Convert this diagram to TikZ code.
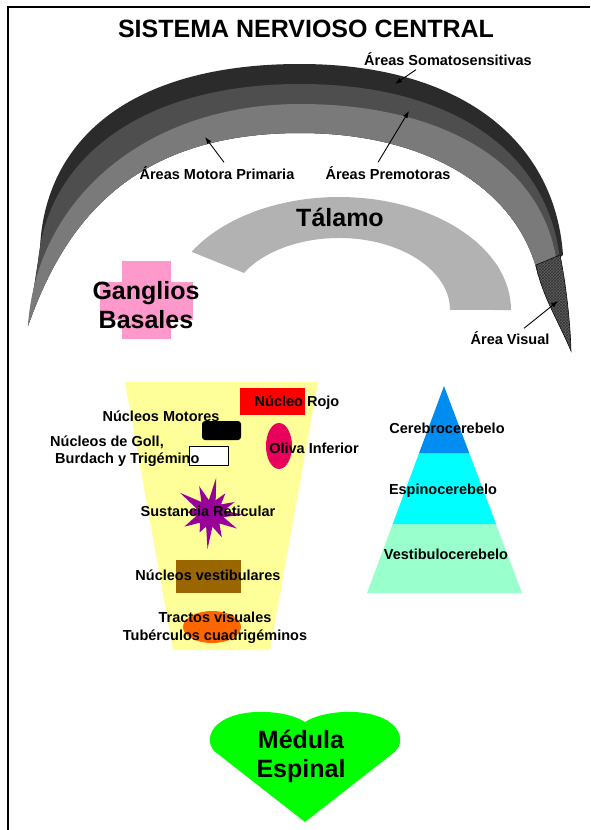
\documentclass[tikz,border=0pt]{standalone}
\usepackage{fontspec}
\setmainfont{Liberation Sans}
\usetikzlibrary{arrows.meta,patterns,shapes.geometric}

\definecolor{archdark}{RGB}{43,43,43}
\definecolor{archmid}{RGB}{78,78,78}
\definecolor{archlight}{RGB}{122,122,122}
\definecolor{talamo}{RGB}{178,178,178}
\definecolor{ganglios}{RGB}{255,153,204}
\definecolor{brainstem}{RGB}{255,255,153}
\definecolor{rojo}{RGB}{255,0,0}
\definecolor{oliva}{RGB}{232,0,92}
\definecolor{reticular}{RGB}{153,0,153}
\definecolor{vestib}{RGB}{153,102,0}
\definecolor{tractos}{RGB}{255,102,0}
\definecolor{cerebro}{RGB}{0,140,240}
\definecolor{espino}{RGB}{0,255,255}
\definecolor{vestibulo}{RGB}{153,255,204}
\definecolor{medula}{RGB}{0,255,0}

\begin{document}
\begin{tikzpicture}[
  x=1pt, y=1pt, >=Latex,
  every node/.style={font=\bfseries, inner sep=1pt},
  heading/.style={font=\fontsize{25}{29}\selectfont\bfseries},
  biglabel/.style={font=\fontsize{25}{29}\selectfont\bfseries, align=center},
  tag/.style={font=\fontsize{14.5}{17.5}\selectfont\bfseries, align=center},
  pointer/.style={->, line width=0.9pt, >={Latex[length=7pt,width=5pt]}},
  frameline/.style={line width=2pt},
  visualarea/.style={fill=black!62, draw=black, line width=0.6pt,
    postaction={pattern=crosshatch, pattern color=black!80}},
  box/.style={rectangle, inner sep=0pt}
]
  \useasboundingbox (0,0) rectangle (590,-830);

  % frame
  \draw[frameline] (8,-830) -- (8,-7) -- (590,-7);

  % corteza
  \fill[archdark] (40,-248) .. controls (45,-140) and (130,-64) .. (300,-64)
    .. controls (460,-64) and (555,-140) .. (563,-255) -- (538,-275)
    .. controls (520,-195) and (435,-133) .. (300,-133)
    .. controls (125,-133) and (62,-230) .. (28,-326) -- cycle;
  \fill[archmid] (38,-263) .. controls (46,-160) and (140,-84) .. (300,-84)
    .. controls (450,-84) and (548,-150) .. (560,-260) -- (538,-275)
    .. controls (520,-195) and (435,-133) .. (300,-133)
    .. controls (125,-133) and (62,-230) .. (28,-326) -- cycle;
  \fill[archlight] (28,-326) .. controls (36,-200) and (145,-104) .. (300,-104)
    .. controls (445,-104) and (545,-165) .. (557,-265) -- (538,-275)
    .. controls (520,-195) and (435,-133) .. (300,-133)
    .. controls (125,-133) and (62,-230) .. (28,-326) -- cycle;
  \filldraw[visualarea] (536,-265) -- (560,-255)
    .. controls (566,-285) and (570,-320) .. (571,-351)
    .. controls (559,-322) and (542,-296) .. (536,-265) -- cycle;

  % talamo
  \fill[talamo] (511,-310) arc[start angle=0, end angle=149, x radius=172, y radius=113]
    -- (243.9,-272.9) arc[start angle=149, end angle=0, x radius=111, y radius=72] -- cycle;

  % ganglios basales
  \fill[ganglios] (122,-261) rectangle (171,-339);
  \fill[ganglios] (100,-282) rectangle (193,-320);

  % tronco encefalico
  \fill[brainstem] (125,-382) -- (318,-382) -- (270,-650) -- (173,-650) -- cycle;
  \node[box, fill=rojo, minimum width=65pt, minimum height=27pt] (rojobox) at (272.5,-401.5) {};
  \node[box, fill=black, rounded corners=3pt, minimum width=39pt, minimum height=19pt] (motorbox) at (221.5,-430.5) {};
  \node[box, fill=white, draw=black, line width=0.8pt, minimum width=39pt, minimum height=19pt] (gollbox) at (208.5,-455.5) {};
  \node[ellipse, fill=oliva, inner sep=0pt, minimum width=26pt, minimum height=46pt] (olivashape) at (279,-446) {};
  \begin{scope}[shift={(210,-513)}]
    \fill[reticular] (80:36) -- (95:13) -- (112:29) -- (128:14) -- (146:36) -- (162:14)
      -- (178:23) -- (192:14) -- (208:29) -- (224:14) -- (242:22) -- (254:14)
      -- (266:36) -- (280:14) -- (296:27) -- (312:14) -- (330:31) -- (343:14)
      -- (357:33) -- (10:14) -- (24:27) -- (38:14) -- (52:25) -- (66:14) -- cycle;
  \end{scope}
  \node[box, fill=vestib, minimum width=65pt, minimum height=33pt] (vestibbox) at (208.5,-576.5) {};
  \node[ellipse, fill=tractos, inner sep=0pt, minimum width=58pt, minimum height=32pt] (tractosshape) at (212,-627) {};

  % cerebelo
  \fill[vestibulo] (392.7,-524) -- (496,-524) -- (522,-593) -- (367,-593) -- cycle;
  \fill[espino] (419.1,-453) -- (469.2,-453) -- (496,-524) -- (392.7,-524) -- cycle;
  \fill[cerebro] (444,-386) -- (469.2,-453) -- (419.1,-453) -- cycle;

  % medula espinal
  \fill[medula] (305,-722) .. controls (285,-709) and (232,-706) .. (214,-728)
    .. controls (207,-738) and (209,-748) .. (218,-754) -- (305,-822) -- (392,-754)
    .. controls (401,-748) and (403,-738) .. (396,-728)
    .. controls (378,-706) and (325,-709) .. (305,-722) -- cycle;

  % textos
  \node[heading] (title) at (306,-28.5) {SISTEMA NERVIOSO CENTRAL};
  \node[tag] (somato) at (448,-59) {Áreas Somatosensitivas};
  \node[tag] (motora) at (217,-173) {Áreas Motora Primaria};
  \node[tag] (premotora) at (388,-173) {Áreas Premotoras};
  \node[biglabel] (talamolbl) at (340,-217) {Tálamo};
  \node[biglabel] (gangliolbl) at (146,-305) {Ganglios\\Basales};
  \node[tag] (visual) at (510,-338) {Área Visual};
  \node[tag] (rojolbl) at (297,-403) {Núcleo Rojo};
  \node[tag] (motorlbl) at (161,-416) {Núcleos Motores};
  \node[tag, align=left, anchor=west] (gollbl) at (49,-451) {Núcleos de Goll,\\\hspace*{5pt}Burdach y Trigémino};
  \node[tag] (olivalbl) at (314,-448) {Oliva Inferior};
  \node[tag] (reticlbl) at (208,-511) {Sustancia Reticular};
  \node[tag] (vestiblbl) at (208,-575) {Núcleos vestibulares};
  \node[tag] (tractoslbl) at (215,-628) {Tractos visuales\\Tubérculos cuadrigéminos};
  \node[tag] (cerebrolbl) at (447,-428) {Cerebrocerebelo};
  \node[tag] (espinolbl) at (443,-491) {Espinocerebelo};
  \node[tag] (vestibulolbl) at (446,-554) {Vestibulocerebelo};
  \node[biglabel] (medulalbl) at (301,-756) {Médula\\Espinal};

  % flechas
  \coordinate (somatotip) at (395,-84);
  \coordinate (motoratip) at (205,-137);
  \coordinate (premotoratip) at (409,-111);
  \coordinate (visualtip) at (558,-301);
  \draw[pointer] ([xshift=53pt,yshift=-3pt]somato.south west) -- (somatotip);
  \draw[pointer] ([xshift=7pt,yshift=3pt]motora.north) -- (motoratip);
  \draw[pointer] ([xshift=-10pt,yshift=3pt]premotora.north) -- (premotoratip);
  \draw[pointer] ([xshift=14pt,yshift=2pt]visual.north) -- (visualtip);
\end{tikzpicture}
\end{document}
